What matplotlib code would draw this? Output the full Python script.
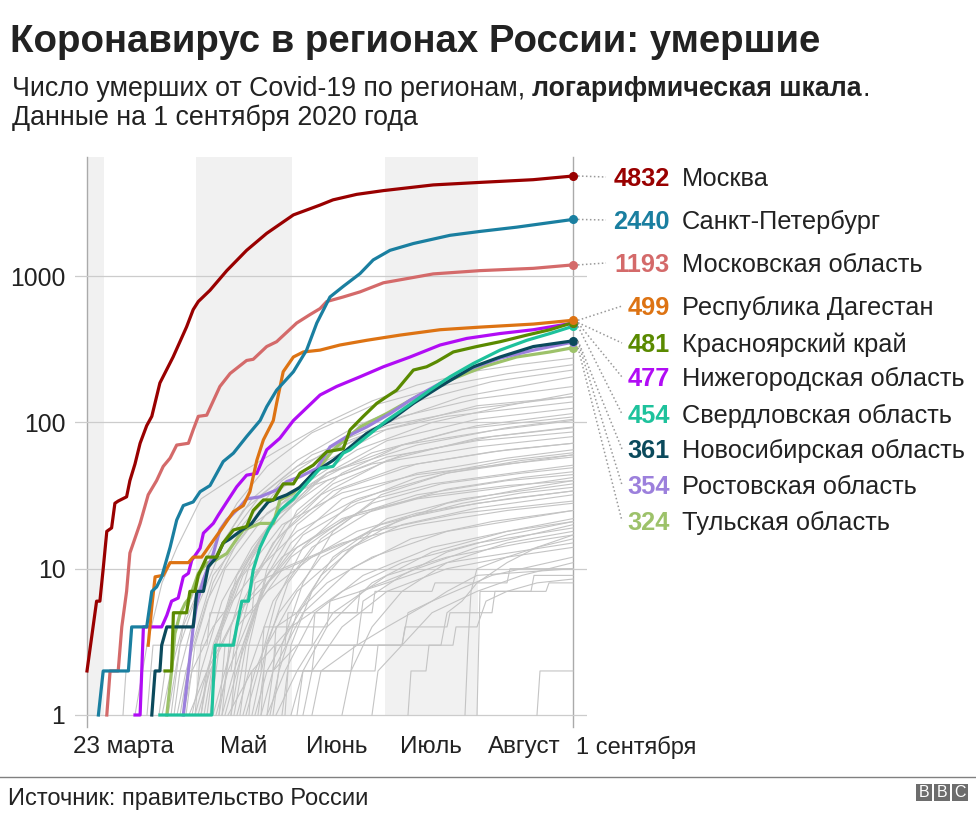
import matplotlib.pyplot as plt
from matplotlib.lines import Line2D
from matplotlib.patches import Rectangle
from matplotlib.ticker import NullLocator

plt.rcParams['font.family'] = ['Liberation Sans', 'DejaVu Sans']

# дни отсчитываются от 23 марта (0) до 1 сентября (162)
moscow_d = [0, 3.2, 4.3, 5.4, 6.6, 8.2, 9.3, 10.4, 13.2, 14.3, 16, 17.7, 19.9, 21.6, 24.3, 28.7,
            33.2, 35.4, 37.1, 41, 46.6, 53.2, 59.9, 68.8, 77.7, 82, 89.9, 98.8, 115.4, 131, 148.7, 162]
moscow_v = [2, 6, 6, 10, 18, 19, 28, 29, 31, 40, 52, 72, 95, 110, 186, 280,
            450, 590, 670, 800, 1090, 1500, 1960, 2620, 3060, 3320, 3620, 3840, 4200, 4370, 4560, 4832]

spb_d = [3.8, 5.4, 13.8, 14.9, 19.9, 21.6, 23.2, 24.9, 27.7, 29.9, 32.1, 35.4, 37.7, 41, 45.4, 48.8,
         53.2, 57.7, 59.9, 63.2, 68.8, 73.2, 76.6, 81, 85.4, 91, 95.4, 101, 108.8, 121, 131, 143.2, 162]
spb_v = [1, 2, 2, 4, 4, 7, 7.5, 8.8, 14, 21.5, 27, 28.6, 33.6, 37, 54, 61.6,
         80, 103, 128, 166, 222, 312, 478, 720, 850, 1040, 1290, 1500, 1670, 1900, 2020, 2160, 2440]

mo_d = [6.6, 7.7, 10.4, 11.6, 13.2, 14.3, 17.7, 20.4, 23.2, 25.4, 27.7, 29.9, 33.8, 35.4, 37.1, 39.9,
        44.3, 47.7, 53.2, 55.4, 59.9, 63.2, 69.9, 74.3, 77.7, 79.9, 85.4, 91, 98.8, 115.4, 131, 148.8, 162]
mo_v = [1, 2, 2, 4, 7, 12.8, 20.4, 32, 40, 50, 57, 70, 72, 89, 110, 112,
        176, 216, 265, 270, 330, 356, 478, 545, 600, 670, 720, 780, 900, 1035, 1090, 1130, 1193]

dag_d = [20.4, 21.6, 22.7, 25.4, 27.7, 33.8, 35.4, 38.2, 41, 45.4, 48.8, 52.1, 54.3, 56.6, 58.8, 62.1,
         63.2, 65.4, 68.8, 72.1, 77.7, 84.3, 93.2, 104.3, 117.7, 131, 148.8, 162]
dag_v = [3, 5.5, 8.8, 9, 11, 11, 12, 12, 14.5, 19.4, 24.5, 27, 33.6, 55, 76, 103,
         135, 222, 280, 303, 312, 338, 364, 395, 430, 448, 470, 499]

kras_d = [26, 28.2, 28.8, 33.2, 34.3, 36, 37.1, 39.9, 43.2, 45.4, 48.8, 53.2, 55.4, 58.8, 62.1, 65.4,
          68.8, 71, 75.4, 79.9, 85.4, 87.7, 92.1, 96.6, 99.9, 103.2, 108.8, 113.2, 116.6, 122.1,
          129.9, 137.7, 146.6, 154.3, 162]
kras_v = [2, 2, 5, 5, 7, 7, 9, 12, 12, 15, 18.4, 19.4, 25, 29.5, 29.5, 38,
          38, 45, 51, 63, 66, 89, 110, 135, 150, 166, 228, 240, 260, 303,
          330, 356, 395, 430, 481]

nn_d = [16, 17.7, 18.8, 24.9, 26.6, 28.2, 30.4, 32.1, 33.8, 34.9, 37.7, 38.8, 42.1, 43.8, 46.6, 49.9,
        53.2, 56.6, 59.9, 64.3, 68.8, 77.7, 83.2, 91, 98.8, 107.7, 117.7, 126.6, 137.7, 148.8, 162]
nn_v = [1, 1, 4, 4, 4.8, 6, 6.3, 8.8, 9.3, 11.4, 13.8, 17.5, 20.4, 23.3, 28.6, 36.3,
        43.6, 44.8, 65, 78, 103, 154, 176, 205, 240, 280, 338, 375, 405, 430, 477]

sverd_d = [24.3, 41.6, 42.7, 48.8, 49.9, 51.6, 53.8, 55.4, 57.7, 60.4, 64.3, 68.8, 72.1, 77.7, 82,
           85.4, 87.7, 93.2, 99.9, 106.6, 114.3, 121, 128.8, 137.7, 146.6, 154.3, 162]
sverd_v = [1, 1, 3, 3, 4, 6, 6, 9.8, 14, 18.4, 25, 30, 36, 48.5, 50,
           61.6, 65, 80, 103, 128, 166, 205, 253, 312, 364, 405, 454]

nsk_d = [21.6, 22.7, 24.3, 24.9, 26.6, 35.4, 36.6, 38.8, 40.4, 43.2, 45.4, 47.7, 51.6, 54.9, 57.7,
         60.4, 66.6, 71, 75.4, 82, 86.6, 93.2, 101, 108.8, 117.7, 128.8, 137.7, 148.8, 162]
nsk_v = [1, 2, 2, 3, 4, 4, 7, 7, 10.3, 12, 15, 16, 18.4, 20.4, 24.5,
         28.6, 32, 36, 45, 55, 65, 84, 103, 135, 176, 240, 280, 330, 361]

rost_d = [32.1, 33.8, 35.4, 36.6, 38.8, 40.4, 42.1, 44.3, 46.6, 51, 53.2, 57.7, 63.2, 66.6, 71,
          76.6, 81, 86.6, 93.2, 101, 107.7, 117.7, 126.6, 137.7, 148.8, 162]
rost_v = [1, 2, 4, 5.8, 8.4, 10.3, 12.7, 18.4, 21.5, 26.5, 30, 31, 34.5, 39.4, 42.5,
          48.5, 68, 80, 93, 115, 142, 185, 228, 275, 312, 354]

tula_d = [26.6, 28.2, 29.3, 31, 32.7, 34.3, 37.1, 39.9, 42.7, 46.6, 49.3, 52.1, 57.7, 62.1, 64.3,
          68.8, 73.2, 77.7, 82.1, 91, 99.9, 109.9, 121, 132.1, 143.2, 154.3, 162]
tula_v = [1, 2, 3.6, 4.9, 5.8, 6.4, 9.3, 10.9, 11.4, 12.7, 15.3, 18.4, 20.4, 20.4, 29.5,
          33, 40, 50, 65, 93, 115, 150, 195, 240, 280, 303, 324]

names = ['Москва', 'Санкт-Петербург', 'Московская область', 'Республика Дагестан',
         'Красноярский край', 'Нижегородская область', 'Свердловская область',
         'Новосибирская область', 'Ростовская область', 'Тульская область']
colors = ['#990000', '#1a7fa0', '#d46a6a', '#dd7313', '#5a8a00',
          '#b10cf5', '#1ec29c', '#0b4a5c', '#9c80dc', '#9dc26a']
series = [(moscow_d, moscow_v), (spb_d, spb_v), (mo_d, mo_v), (dag_d, dag_v), (kras_d, kras_v),
          (nn_d, nn_v), (sverd_d, sverd_v), (nsk_d, nsk_v), (rost_d, rost_v), (tula_d, tula_v)]

# остальные регионы (серые линии)
gray_series = [
    ([16, 20, 25, 30, 38, 51, 64, 80, 95, 110, 130, 145, 162], [1, 3, 8, 14, 30, 45, 65, 100, 140, 180, 225, 250, 275]),
    ([25, 28, 33, 40, 50, 60, 75, 95, 120, 140, 162], [1, 2, 5, 12, 28, 50, 85, 130, 180, 215, 248]),
    ([28, 31, 37, 45, 55, 70, 90, 110, 135, 162], [1, 3, 7, 15, 30, 55, 95, 140, 190, 228]),
    ([30, 33, 40, 50, 62, 80, 100, 125, 162], [1, 2, 6, 15, 32, 60, 100, 150, 205]),
    ([33, 36, 42, 52, 65, 85, 105, 130, 162], [1, 3, 8, 20, 40, 75, 110, 145, 176]),
    ([35, 38, 45, 55, 70, 90, 115, 140, 162], [1, 2, 6, 14, 35, 65, 100, 130, 158]),
    ([27, 32, 40, 52, 70, 95, 120, 162], [1, 4, 10, 25, 50, 85, 110, 138]),
    ([38, 42, 50, 62, 80, 100, 130, 162], [1, 3, 8, 20, 45, 75, 105, 125]),
    ([36, 40, 48, 58, 75, 95, 125, 162], [1, 2, 7, 16, 38, 62, 90, 109]),
    ([40, 43, 50, 62, 80, 105, 135, 162], [1, 3, 9, 22, 45, 70, 88, 103]),
    ([42, 46, 52, 62, 78, 100, 130, 162], [1, 2, 6, 15, 32, 55, 78, 93]),
    ([31, 35, 42, 55, 72, 95, 130, 162], [1, 3, 9, 20, 35, 52, 68, 80]),
    ([44, 48, 55, 66, 82, 105, 135, 162], [1, 3, 8, 18, 34, 50, 63, 72]),
    ([46, 50, 57, 68, 85, 110, 140, 162], [1, 2, 6, 15, 30, 45, 57, 65]),
    ([39, 43, 52, 65, 85, 110, 140, 162], [1, 3, 9, 20, 33, 44, 52, 58]),
    ([48, 52, 60, 72, 90, 115, 145, 162], [1, 3, 8, 17, 28, 38, 46, 51]),
    ([50, 54, 62, 75, 95, 120, 145, 162], [1, 2, 6, 14, 25, 35, 42, 46]),
    ([45, 49, 58, 70, 90, 115, 140, 162], [1, 2, 7, 14, 24, 32, 37, 40]),
    ([52, 56, 64, 78, 98, 125, 145, 162], [1, 2, 5, 12, 20, 28, 33, 36]),
    ([55, 60, 70, 85, 105, 130, 162], [1, 3, 7, 13, 20, 26, 32]),
    ([34, 40, 50, 65, 85, 110, 140, 162], [1, 2, 5, 10, 15, 20, 25, 28]),
    ([58, 62, 72, 88, 108, 135, 162], [1, 2, 5, 10, 16, 21, 25]),
    ([60, 66, 76, 92, 115, 140, 162], [1, 2, 5, 9, 14, 18, 21]),
    ([47, 55, 68, 85, 105, 130, 162], [1, 2, 4, 7, 11, 15, 19]),
    ([63, 70, 82, 100, 120, 145, 162], [1, 2, 5, 9, 12, 15, 17]),
    ([54, 55, 62, 63, 75, 76, 95, 96, 115, 116, 140, 141, 162], [1, 2, 2, 3, 3, 5, 5, 7, 7, 8, 8, 10, 10]),
    ([66, 67, 88, 89, 105, 106, 120, 121, 135, 136, 148, 149, 162], [1, 2, 2, 3, 3, 4, 4, 5, 5, 7, 7, 9, 9]),
    ([130, 131, 153, 154, 162], [1, 7, 7, 8, 8]),
    ([150, 151, 162], [1, 2, 2]),
    ([107, 108, 113, 114, 118, 120, 125, 130, 140, 150, 162], [1, 2, 2, 3, 3, 5, 6, 8, 11, 14, 17]),
    ([126, 127, 128, 130, 140, 150, 162], [1, 3, 7, 10, 12, 14, 16]),
    ([60, 62, 70, 122, 123, 130, 133, 140, 150, 162], [1, 2, 3, 3, 4, 4, 6, 7, 8, 8.5]),
    ([70, 72, 96, 97, 105, 107, 115, 120, 130, 162], [1, 2, 2, 3, 3, 5, 6, 7, 9, 10]),
    ([12, 13, 62, 63, 70, 80, 95, 120, 162], [1, 2, 2, 4, 5, 8, 12, 18, 25]),
    ([41, 45, 52, 62, 80, 100, 130, 162], [1, 4, 10, 22, 40, 58, 75, 86]),
    ([49, 53, 60, 70, 85, 110, 140, 162], [1, 3, 9, 20, 35, 52, 65, 72]),
    ([53, 57, 63, 72, 88, 110, 140, 162], [1, 2, 6, 14, 28, 42, 55, 62]),
    ([57, 60, 67, 78, 95, 118, 145, 162], [1, 3, 8, 16, 28, 38, 45, 49]),
    ([61, 64, 70, 82, 100, 125, 162], [1, 2, 5, 12, 22, 30, 38]),
    ([43, 47, 55, 68, 86, 110, 140, 162], [1, 2, 5, 12, 22, 30, 36, 42]),
    ([37, 41, 50, 65, 85, 110, 140, 162], [1, 2, 5, 12, 22, 32, 40, 44]),
    ([65, 68, 75, 88, 105, 130, 162], [1, 3, 7, 14, 22, 28, 34]),
    ([68, 72, 80, 95, 115, 140, 162], [1, 2, 4, 8, 13, 18, 22]),
    ([51, 54, 60, 70, 85, 105, 130, 162], [1, 3, 10, 25, 45, 70, 95, 115]),
    ([45, 48, 55, 65, 80, 100, 130, 162], [1, 4, 12, 28, 55, 90, 130, 150]),
    ([32, 35, 42, 55, 70, 90, 120, 162], [1, 2, 4, 9, 18, 30, 45, 60]),
    ([72, 75, 85, 100, 120, 140, 162], [1, 2, 4, 7, 10, 12, 14]),
    ([75, 78, 90, 100, 115, 135, 162], [1, 2, 3, 4, 6, 9, 12]),
    ([29, 31, 36, 45, 58, 75, 100, 130, 162], [1, 2, 5, 14, 32, 60, 95, 125, 150]),
    ([56, 60, 68, 78, 95, 120, 145, 162], [1, 2, 4, 9, 18, 28, 35, 40]),
    ([62, 65, 72, 82, 98, 120, 145, 162], [1, 3, 8, 18, 32, 45, 55, 60]),
    ([85, 88, 95, 105, 120, 140, 162], [1, 2, 4, 7, 11, 15, 18]),
    ([95, 97, 105, 115, 130, 145, 162], [1, 2, 3, 5, 7, 9, 11]),
    ([20, 22, 40, 41, 55, 56, 75, 90, 110, 140, 162], [1, 3, 3, 5, 5, 8, 12, 18, 24, 30, 34]),
    ([24, 26, 48, 50, 60, 75, 95, 125, 162], [1, 2, 2, 4, 7, 12, 18, 24, 29]),
    ([38, 40, 58, 59, 80, 81, 100, 120, 162], [1, 2, 2, 4, 4, 6, 8, 11, 15]),
    ([44, 46, 66, 67, 90, 91, 110, 130, 162], [1, 3, 3, 5, 5, 7, 10, 14, 20]),
    ([58, 59, 75, 76, 90, 92, 105, 120, 140, 162], [1, 2, 2, 3, 3, 6, 9, 13, 17, 21]),
    ([36, 38, 46, 60, 80, 110, 140, 162], [1, 3, 10, 24, 45, 70, 92, 105]),
    ([48, 50, 56, 66, 82, 105, 135, 162], [1, 3, 9, 20, 38, 60, 80, 92]),
]

month_bands = [(0, 5.7), (36.3, 68.3), (99.3, 130.3)]
xtick_pos = [12.3, 52.3, 83.3, 114.7, 145.7]
xtick_labels = ['23 марта', 'Май', 'Июнь', 'Июль', 'Август']
yticks = [1, 10, 100, 1000]

# позиции подписей справа (пиксели)
label_py = [177, 220, 263, 306, 343, 377, 414, 449, 485, 521]

W, H = 976, 816
fig = plt.figure(figsize=(W / 100, H / 100), dpi=100)
fig.patch.set_facecolor('white')


def fx(px):
    return px / W


def fy(py):
    return 1 - py / H


ax = fig.add_axes([fx(75), fy(720), fx(587) - fx(75), fy(157) - fy(720)])
ax.set_yscale('log')
ax.set_xlim(-4, 162 + 14 / 3)
ylo, yhi = 10 ** (-5 / 146.3), 10 ** (558 / 146.3)
ax.set_ylim(ylo, yhi)
for s in ax.spines.values():
    s.set_visible(False)

for a, b in month_bands:
    ax.fill_between([a, b], 1, yhi, color='#f1f1f1', lw=0, zorder=0)

ax.set_yticks(yticks)
ax.set_yticklabels([str(t) for t in yticks])
ax.yaxis.set_minor_locator(NullLocator())
ax.tick_params(axis='y', length=0, pad=7, labelsize=17.8, labelcolor='#222222')
ax.set_xticks([])
ax.grid(axis='y', color='#cccccc', lw=0.9, zorder=1)

for xv in (0, 162):
    ax.axvline(xv, ymin=-0.0125, ymax=1, color='#aaaaaa', lw=1, clip_on=False, zorder=1)

for xt, lab in zip(xtick_pos, xtick_labels):
    ax.text(xt, -0.048, lab, transform=ax.get_xaxis_transform(), ha='center', va='center',
            fontsize=17.5, color='#222222')
ax.text(163, -0.048, '1 сентября', transform=ax.get_xaxis_transform(), ha='left', va='center',
        fontsize=17, color='#222222')

for d, v in gray_series:
    ax.plot(d, v, color='#c4c4c4', lw=0.8, zorder=2)

for (d, v), c in zip(series[::-1], colors[::-1]):
    ax.plot(d, v, color=c, lw=2.3, zorder=3, solid_joinstyle='round')
    ax.plot(d[-1], v[-1], 'o', ms=5.5, color=c, zorder=5, clip_on=False)

# подписи справа и пунктирные выноски
for i, ((d, v), c, name) in enumerate(zip(series, colors, names)):
    px, py_disp = ax.transData.transform((d[-1], v[-1]))
    x0, y0 = (px + 5) / W, py_disp / H
    x1 = fx(606) if i < 3 else fx(622)
    fig.add_artist(Line2D([x0, x1], [y0, fy(label_py[i])], transform=fig.transFigure,
                          ls=(0, (1, 1.6)), color='#999999', lw=1.1))
    fig.text(fx(670), fy(label_py[i] + 2), f'{int(v[-1])}', ha='right', va='center',
             fontsize=18.3, fontweight='bold', color=c)
    fig.text(fx(682), fy(label_py[i] + 2), name, ha='left', va='center',
             fontsize=18.3, color='#222222')

# заголовок
fig.text(fx(10), fy(42), 'Коронавирус в регионах России: умершие', ha='left', va='center',
         fontsize=27.6, fontweight='bold', color='#222222')
renderer = fig.canvas.get_renderer()
t1 = fig.text(fx(12), fy(89), 'Число умерших от Covid-19 по регионам, ', ha='left', va='center',
              fontsize=19.3, color='#222222')
e1 = t1.get_window_extent(renderer)
t2 = fig.text(e1.x1 / W, fy(89), 'логарифмическая шкала', ha='left', va='center',
              fontsize=19.3, fontweight='bold', color='#222222')
e2 = t2.get_window_extent(renderer)
fig.text(e2.x1 / W, fy(89), '.', ha='left', va='center', fontsize=19.3, color='#222222')
fig.text(fx(12), fy(118), 'Данные на 1 сентября 2020 года', ha='left', va='center',
         fontsize=19.3, color='#222222')

# подвал
fig.add_artist(Line2D([0, 1], [fy(777), fy(777)], transform=fig.transFigure, color='#808080', lw=1))
fig.text(fx(8), fy(799), 'Источник: правительство России', ha='left', va='center',
         fontsize=17, color='#222222')
for k, letter in enumerate('BBC'):
    x_left = 916 + 18 * k
    fig.add_artist(Rectangle((fx(x_left), fy(801)), 16 / W, 17 / H, transform=fig.transFigure,
                             color='#6d6d6d', lw=0))
    fig.text(fx(x_left + 8), fy(792.5), letter, ha='center', va='center', fontsize=11.5,
             color='white')

fig.savefig('out.png', dpi=100)
